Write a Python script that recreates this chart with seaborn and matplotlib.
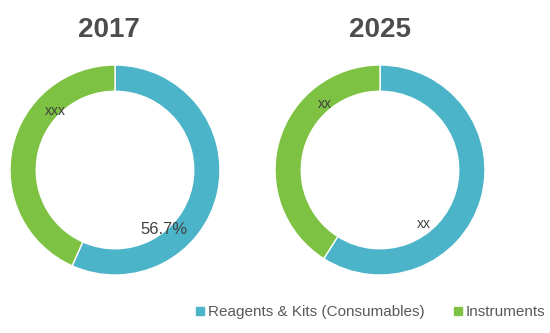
import matplotlib
matplotlib.use("Agg")
import matplotlib.pyplot as plt
import seaborn as sns
from matplotlib.lines import Line2D

# ---- data ----
years = ["2017", "2025"]
categories = ["Reagents & Kits (Consumables)", "Instruments"]
shares_2017 = [56.7, 43.3]
shares_2025 = [59.0, 41.0]
labels_2017 = ["56.7%", "xxx"]
labels_2025 = ["xx", "xx"]

sns.set_theme(style="white")
plt.rcParams['font.family'] = ['Liberation Sans', 'DejaVu Sans']
palette = sns.color_palette(["#4BB4C9", "#7DC242"])
text_color = "#404040"
title_color = "#4D4D4D"

W, H = 550, 333
fig = plt.figure(figsize=(5.5, 3.33), dpi=100)

def px_axes(x0, y0, x1, y1):
    return fig.add_axes([x0 / W, 1 - y1 / H, (x1 - x0) / W, (y1 - y0) / H])

specs = [
    (shares_2017, labels_2017, (10, 65, 220, 275), [(0.467, -0.571, 12), (-0.571, 0.562, 10)], 108.5),
    (shares_2025, labels_2025, (275, 65, 485, 275), [(0.419, -0.514, 10), (-0.524, 0.629, 10)], 380),
]

for (vals, labs, box, lblpos, tx), year in zip(specs, years):
    ax = px_axes(*box)
    ax.pie(vals, colors=palette, startangle=90, counterclock=False, radius=1,
           wedgeprops=dict(width=0.25, edgecolor="white", linewidth=1))
    ax.set_aspect("auto")
    ax.set_xlim(-1, 1)
    ax.set_ylim(-1, 1)
    ax.axis("off")
    for lab, (x, y, fs) in zip(labs, lblpos):
        ax.text(x, y, lab, ha="center", va="center", fontsize=fs, color=text_color)
    fig.text(tx / W, 1 - 30 / H, year, ha="center", va="center", fontsize=20,
             fontweight="bold", color=title_color)

handles = [Line2D([0], [0], marker="s", linestyle="none", markersize=6,
                  markerfacecolor=c, markeredgecolor=c) for c in palette]
fig.legend(handles, categories, loc="center", bbox_to_anchor=(370 / W, 1 - 312 / H),
           ncol=2, frameon=False, fontsize=11, handletextpad=0.1,
           columnspacing=1.8, handlelength=0.8, labelcolor="#595959")

fig.savefig("out.png", dpi=100)
